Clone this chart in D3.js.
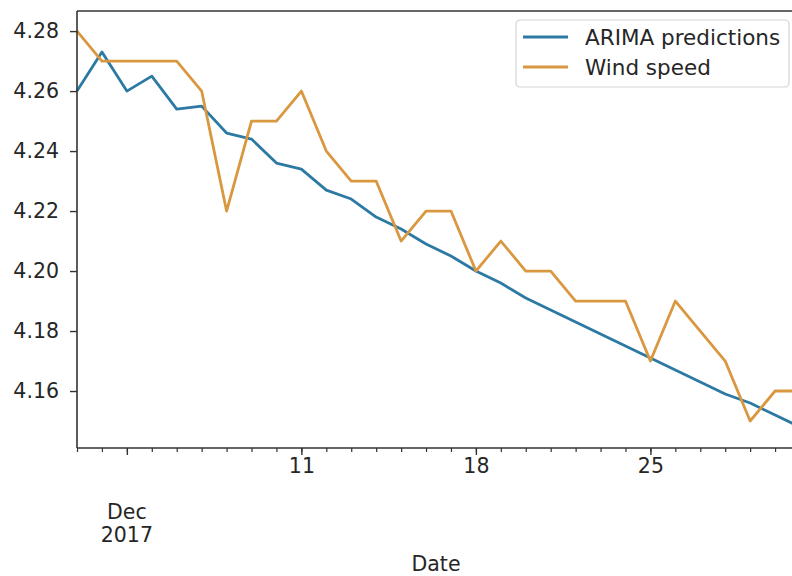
<!DOCTYPE html>
<html>
<head>
    <meta charset="utf-8">
    <title>ARIMA vs Wind speed</title>
    <script src="https://cdn.jsdelivr.net/npm/d3@7"></script>
    <style>
        body { margin: 0; background: #fff; }
        text { font-family: "DejaVu Sans", sans-serif; fill: #262626; }
    </style>
</head>
<body>
    <svg width="792" height="576" id="mainsvg"></svg>
    <script>
        // data, one value per day
        const dates = ['2017-12-02', '2017-12-03', '2017-12-04', '2017-12-05', '2017-12-06', '2017-12-07',
            '2017-12-08', '2017-12-09', '2017-12-10', '2017-12-11', '2017-12-12', '2017-12-13',
            '2017-12-14', '2017-12-15', '2017-12-16', '2017-12-17', '2017-12-18', '2017-12-19',
            '2017-12-20', '2017-12-21', '2017-12-22', '2017-12-23', '2017-12-24', '2017-12-25',
            '2017-12-26', '2017-12-27', '2017-12-28', '2017-12-29', '2017-12-30', '2017-12-31'];
        const arimaPred = [4.260, 4.273, 4.260, 4.265, 4.254, 4.255, 4.246, 4.244, 4.236, 4.234,
            4.227, 4.224, 4.218, 4.214, 4.209, 4.205, 4.200, 4.196, 4.191, 4.187,
            4.183, 4.179, 4.175, 4.171, 4.167, 4.163, 4.159, 4.156, 4.152, 4.148];
        const windSpeed = [4.28, 4.27, 4.27, 4.27, 4.27, 4.26, 4.22, 4.25, 4.25, 4.26,
            4.24, 4.23, 4.23, 4.21, 4.22, 4.22, 4.20, 4.21, 4.20, 4.20,
            4.19, 4.19, 4.19, 4.17, 4.19, 4.18, 4.17, 4.15, 4.16, 4.16];
        const yTicks = [4.16, 4.18, 4.20, 4.22, 4.24, 4.26, 4.28];
        const seriesNames = ['ARIMA predictions', 'Wind speed'];
        const colors = ['#2c7aa3', '#d9973f'];

        const svg = d3.select('svg');
        const plotLeft = 77, plotTop = 11, plotBottom = 448, plotRight = 800;
        const fontSize = '20.5px';

        const parse = d3.timeParse('%Y-%m-%d');
        const days = dates.map(parse);

        const xScale = d3.scaleTime()
            .domain(d3.extent(days))
            .range([plotLeft, plotRight]);
        const yScale = d3.scaleLinear()
            .domain([4.1410, 4.2867])
            .range([plotBottom, plotTop]);

        // lines
        const series = [arimaPred, windSpeed];
        const line = d3.line()
            .x((d, i) => xScale(days[i]))
            .y(d => yScale(d));
        svg.append('g').selectAll('path').data(series)
            .join('path')
            .attr('d', d => line(d))
            .attr('fill', 'none')
            .attr('stroke', (d, i) => colors[i])
            .attr('stroke-width', 2.8)
            .attr('stroke-linejoin', 'round');

        // y axis
        const yAxis = d3.axisLeft(yScale)
            .tickValues(yTicks)
            .tickFormat(d3.format('.2f'))
            .tickSize(7)
            .tickPadding(11);
        const yg = svg.append('g')
            .attr('transform', `translate(${plotLeft},0)`)
            .call(yAxis);
        yg.select('.domain').remove();
        yg.selectAll('.tick line').attr('stroke', '#333').attr('stroke-width', 1.4);
        yg.selectAll('.tick text').attr('font-size', fontSize).attr('font-family', 'DejaVu Sans');

        // x axis: daily minor ticks, weekly labelled ticks
        const xMinor = d3.axisBottom(xScale)
            .ticks(d3.timeDay.every(1))
            .tickSize(4)
            .tickFormat('');
        const xg = svg.append('g')
            .attr('transform', `translate(0,${plotBottom})`)
            .call(xMinor);
        xg.select('.domain').remove();
        xg.selectAll('.tick line').attr('stroke', '#333').attr('stroke-width', 1.2);

        const xMajor = d3.axisBottom(xScale)
            .ticks(d3.timeMonday.every(1))
            .tickSize(7)
            .tickPadding(3)
            .tickFormat(d => d.getDate() === 4 ? '' : d3.timeFormat('%-d')(d));
        const xg2 = svg.append('g')
            .attr('transform', `translate(0,${plotBottom})`)
            .call(xMajor);
        xg2.select('.domain').remove();
        xg2.selectAll('.tick line').attr('stroke', '#333').attr('stroke-width', 1.4);
        xg2.selectAll('.tick text').attr('font-size', fontSize).attr('font-family', 'DejaVu Sans');

        const monthX = xScale(parse('2017-12-04'));
        svg.append('text').attr('x', monthX).attr('y', 519)
            .attr('text-anchor', 'middle').attr('font-size', fontSize).text('Dec');
        svg.append('text').attr('x', monthX).attr('y', 542)
            .attr('text-anchor', 'middle').attr('font-size', fontSize).text('2017');

        svg.append('text').attr('x', 436).attr('y', 571)
            .attr('text-anchor', 'middle').attr('font-size', fontSize).text('Date');

        // spines
        svg.append('line').attr('x1', plotLeft).attr('x2', plotLeft).attr('y1', plotTop).attr('y2', plotBottom)
            .attr('stroke', '#333').attr('stroke-width', 1.6);
        svg.append('line').attr('x1', plotLeft).attr('x2', plotRight).attr('y1', plotBottom).attr('y2', plotBottom)
            .attr('stroke', '#333').attr('stroke-width', 1.6);
        svg.append('line').attr('x1', plotLeft).attr('x2', plotRight).attr('y1', plotTop).attr('y2', plotTop)
            .attr('stroke', '#333').attr('stroke-width', 1.6);

        // legend
        const legend = svg.append('g').attr('transform', 'translate(516,20)');
        legend.append('rect')
            .attr('width', 273).attr('height', 67).attr('rx', 4)
            .attr('fill', '#fff').attr('fill-opacity', 0.8)
            .attr('stroke', '#d4d4d4').attr('stroke-width', 1.2);
        seriesNames.forEach((name, i) => {
            const yy = 17 + i * 30;
            legend.append('line')
                .attr('x1', 7).attr('x2', 52).attr('y1', yy).attr('y2', yy)
                .attr('stroke', colors[i]).attr('stroke-width', 2.8);
            legend.append('text')
                .attr('x', 69).attr('y', yy + 7.5)
                .attr('font-size', '21.5px')
                .text(name);
        });
    </script>
</body>
</html>
